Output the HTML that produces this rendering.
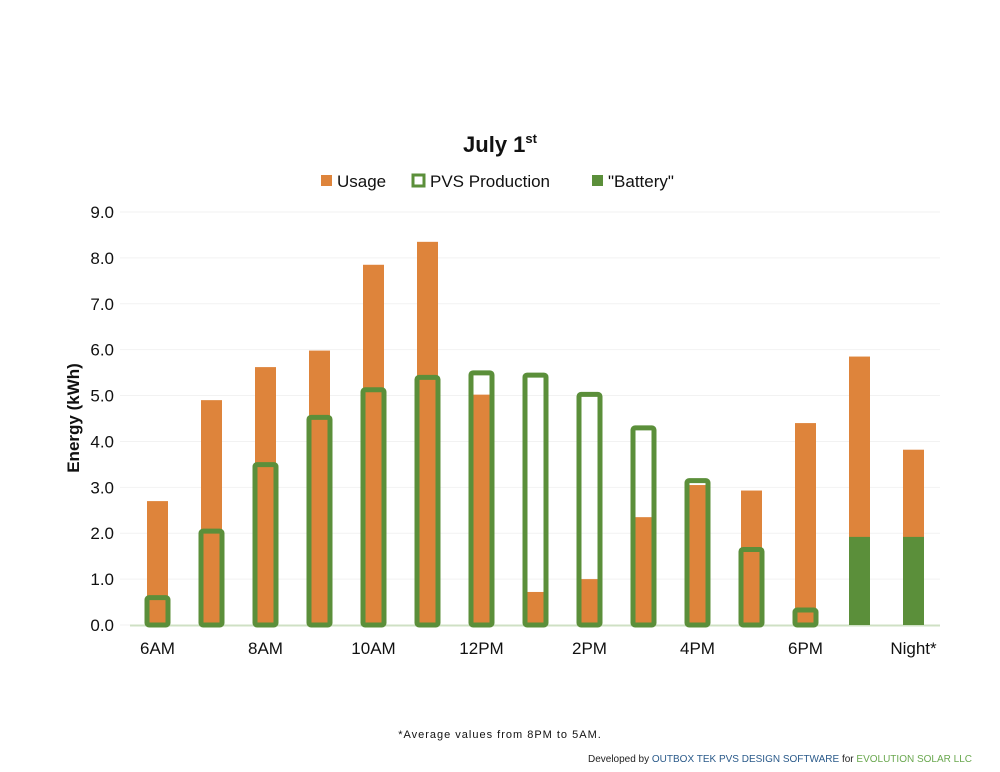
<!DOCTYPE html>
<html><head><meta charset="utf-8"><style>
body{margin:0;background:#fff;font-family:"Liberation Sans",sans-serif}
svg{display:block}
</style></head><body>
<svg id="c" width="1000" height="772">
<text x="500" y="152" text-anchor="middle" font-size="22" font-weight="bold" fill="#111">July 1<tspan font-size="13" dy="-9">st</tspan></text>
<g font-size="17" fill="#111">
<rect x="321" y="175" width="11" height="11" fill="#de843b"/>
<text x="337" y="187">Usage</text>
<rect x="413" y="175" width="11" height="11" fill="none" stroke="#5b8f3a" stroke-width="3"/>
<text x="430" y="187">PVS Production</text>
<rect x="592" y="175" width="11" height="11" fill="#5b8f3a"/>
<text x="608" y="187">"Battery"</text>
</g>
<text transform="translate(79,418) rotate(-90)" text-anchor="middle" font-size="17" font-weight="bold" fill="#111">Energy (kWh)</text>
<g id="grid"></g><g id="bars"></g>
<text x="500" y="738" text-anchor="middle" font-size="11" letter-spacing="1" fill="#111">*Average values from 8PM to 5AM.</text>
<text x="972" y="762" text-anchor="end" font-size="10" fill="#222">Developed by <tspan fill="#2a5a8a">OUTBOX TEK PVS DESIGN SOFTWARE</tspan> for <tspan fill="#6aa84f">EVOLUTION SOLAR LLC</tspan></text>
</svg>
<script>
const categories=["6AM","7AM","8AM","9AM","10AM","11AM","12PM","1PM","2PM","3PM","4PM","5PM","6PM","7PM","Night*"];
const tickLabels=["6AM","","8AM","","10AM","","12PM","","2PM","","4PM","","6PM","","Night*"];
const usage=[2.7,4.9,5.62,5.98,7.85,8.35,5.02,0.72,1.0,2.35,3.05,2.93,4.4,5.85,3.82];
const pvs=[0.65,2.1,3.55,4.58,5.18,5.45,5.55,5.5,5.08,4.35,3.2,1.7,0.38,0,0];
const battery=[0,0,0,0,0,0,0,0,0,0,0,0,0,1.92,1.92];
const yTicks=[0,1,2,3,4,5,6,7,8,9];
const NS="http://www.w3.org/2000/svg";
const y=v=>625-v*(413/9);
const x=i=>157.5+i*54;
const grid=document.getElementById('grid'),bars=document.getElementById('bars');
function mk(t,a,p){const e=document.createElementNS(NS,t);for(const k in a)e.setAttribute(k,a[k]);p.appendChild(e);return e;}
yTicks.forEach(v=>{
 const l=mk('line',{x1:120,x2:940,y1:y(v),y2:y(v),stroke:'#f2f2f2','stroke-width':1},grid);
 
 
 const t=mk('text',{x:114,y:y(v)+6,'text-anchor':'end','font-size':17,fill:'#111'},grid);
 t.textContent=v.toFixed(1);
 
 
});
const base=mk('line',{x1:130,x2:940,y1:625.5,y2:625.5,stroke:'#cfe0c4','stroke-width':2},grid);


categories.forEach((c,i)=>{
 const u=mk('rect',{x:x(i)-10.5,y:y(usage[i]),width:21,height:625-y(usage[i]),fill:'#de843b'},bars);
 
 
 if(battery[i]>0){
  const b=mk('rect',{x:x(i)-10.5,y:y(battery[i]),width:21,height:625-y(battery[i]),fill:'#5b8f3a'},bars);
  
  
 }
 if(pvs[i]>0){
  const p=mk('rect',{x:x(i)-10.5,y:y(pvs[i])+2.5,width:21,height:625-y(pvs[i])-2.5,fill:'none',stroke:'#5b8f3a','stroke-width':5,rx:2},bars);
  
  
 }
 if(tickLabels[i]){
  const t=mk('text',{x:x(i),y:654,'text-anchor':'middle','font-size':17,fill:'#111'},bars);
  t.textContent=tickLabels[i];
  
  
 }
});
</script>
</body></html>
